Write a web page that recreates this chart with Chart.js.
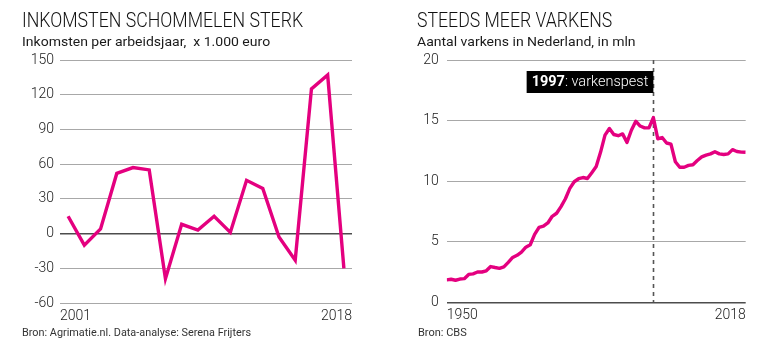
<!DOCTYPE html>
<html>
<head>
<meta charset="utf-8">
<script src="https://cdn.jsdelivr.net/npm/chart.js@4.4.1/dist/chart.umd.min.js"></script>
<style>
  body { margin: 0; width: 763px; height: 350px; background: #fff; position: relative; overflow: hidden;
         font-family: Roboto, "Noto Sans", sans-serif; color: #1a1a1a; }
  canvas { position: absolute; top: 0; }
  #incomeChart { left: 0; width: 380px; height: 350px; }
  #pigChart { left: 390px; width: 373px; height: 350px; }
  .txt { position: absolute; white-space: nowrap; line-height: 1; transform-origin: 0 0; }
  .title { font-size: 19.5px; font-weight: 300; color: #111; }
  .sub { font-size: 13.5px; }
  .src { font-size: 11px; color: #333; }
</style>
</head>
<body>
<canvas id="incomeChart" width="380" height="350"></canvas>
<canvas id="pigChart" width="373" height="350"></canvas>

<div class="txt title" data-w="281" style="left:22px;top:10.6px">INKOMSTEN SCHOMMELEN STERK</div>
<div class="txt sub" data-w="248" style="left:22px;top:34.7px">Inkomsten per arbeidsjaar,&nbsp; x 1.000 euro</div>
<div class="txt src" data-w="229" style="left:22px;top:326.8px">Bron: Agrimatie.nl. Data-analyse: Serena Frijters</div>

<div class="txt title" data-w="195" style="left:417px;top:10.6px">STEEDS MEER VARKENS</div>
<div class="txt sub" data-w="219" style="left:417px;top:34.7px">Aantal varkens in Nederland, in mln</div>
<div class="txt src" data-w="49" style="left:418px;top:326.8px">Bron: CBS</div>

<script>
// income per labour year, x 1.000 euro
const incomeYears = ['2001', '2002', '2003', '2004', '2005', '2006', '2007', '2008', '2009',
                     '2010', '2011', '2012', '2013', '2014', '2015', '2016', '2017', '2018'];
const incomeValues = [15, -10, 4, 52, 57, 55, -39, 8, 3, 15, 1, 46, 39, -3, -23, 125, 137, -30];
const incomeTicks = [-60, -30, 0, 30, 60, 90, 120, 150];

// pigs in the Netherlands, millions, 1950-2018
const pigCounts = [
  1.85, 1.9, 1.82, 1.92, 1.95, 2.3, 2.35, 2.5, 2.5, 2.6,
  2.95, 2.87, 2.8, 2.92, 3.3, 3.7, 3.88, 4.15, 4.55, 4.75,
  5.6, 6.18, 6.28, 6.55, 7.1, 7.35, 7.9, 8.55, 9.4, 9.95,
  10.2, 10.3, 10.22, 10.7, 11.2, 12.4, 13.8, 14.35, 13.85, 13.75,
  13.9, 13.2, 14.2, 14.95, 14.55, 14.4, 14.4, 15.25, 13.5, 13.6,
  13.15, 13.05, 11.6, 11.15, 11.15, 11.3, 11.35, 11.7, 12.0, 12.15,
  12.25, 12.43, 12.25, 12.2, 12.25, 12.6, 12.45, 12.4, 12.38
];
const pigYears = pigCounts.map((_, i) => 1950 + i);
const pigTicks = [0, 5, 10, 15, 20];
const pigXTicks = [1950, 2018];
const crisisYear = 1997;
const crisisLabel = ['1997', ': varkenspest'];

const magenta = '#e4007f';
const tickFont = { family: 'Roboto', size: 14, weight: 300 };
const tickColor = '#222';

// squeeze html texts to the reference widths
document.querySelectorAll('.txt').forEach(el => {
  const w = +el.dataset.w;
  el.style.transform = 'scaleX(' + (w / el.offsetWidth) + ')';
});

const gridColor = ctx => ctx.tick.value === 0 ? '#4d4d4d' : '#a8a8a8';
const gridWidth = ctx => ctx.tick.value === 0 ? 1.6 : 1;

// first and last category drawn at the edges of the plot
const edgeLabels = {
  id: 'edgeLabels',
  afterDraw(chart) {
    const { ctx, chartArea } = chart;
    const labels = chart.data.labels;
    ctx.save();
    ctx.font = '300 14px Roboto';
    ctx.fillStyle = tickColor;
    ctx.textBaseline = 'middle';
    ctx.textAlign = 'left';
    ctx.fillText(labels[0], chartArea.left, chartArea.bottom + 13);
    ctx.textAlign = 'right';
    ctx.fillText(labels[labels.length - 1], chartArea.right, chartArea.bottom + 13);
    ctx.restore();
  }
};

new Chart(document.getElementById('incomeChart'), {
  type: 'line',
  data: {
    labels: incomeYears,
    datasets: [{
      data: incomeValues,
      borderColor: magenta,
      borderWidth: 3.4,
      pointRadius: 0,
      tension: 0,
      borderJoinStyle: 'miter'
    }]
  },
  options: {
    responsive: false,
    animation: false,
    layout: { padding: { top: 60, right: 28, bottom: 27, left: 0 } },
    plugins: { legend: { display: false }, tooltip: { enabled: false } },
    scales: {
      x: {
        offset: true,
        grid: { display: false, drawTicks: false },
        border: { display: false },
        ticks: { display: false },
        afterFit: s => { s.height = 20; }
      },
      y: {
        min: incomeTicks[0],
        max: incomeTicks[incomeTicks.length - 1],
        afterBuildTicks: s => { s.ticks = incomeTicks.map(v => ({ value: v })); },
        grid: { color: gridColor, lineWidth: gridWidth, drawTicks: false },
        border: { display: false },
        ticks: { font: tickFont, color: tickColor, padding: 6 },
        afterFit: s => { s.width = 60; }
      }
    }
  },
  plugins: [edgeLabels]
});

// dashed marker and black label for the swine fever year
const crisisMarker = {
  id: 'crisisMarker',
  beforeDatasetsDraw(chart) {
    const { ctx, chartArea, scales } = chart;
    const x = Math.round(scales.x.getPixelForValue(crisisYear)) + 0.5;
    ctx.save();
    ctx.strokeStyle = '#555';
    ctx.lineWidth = 1.6;
    ctx.setLineDash([4, 4]);
    ctx.beginPath();
    ctx.moveTo(x, chartArea.top);
    ctx.lineTo(x, chartArea.bottom);
    ctx.stroke();
    ctx.restore();
  },
  afterDraw(chart) {
    const { ctx, chartArea, scales } = chart;
    const x = scales.x.getPixelForValue(crisisYear);
    const boldFont = 'bold 14.5px Roboto';
    const normFont = '300 14.5px Roboto';
    ctx.save();
    ctx.font = boldFont;
    const w1 = ctx.measureText(crisisLabel[0]).width;
    ctx.font = normFont;
    const w2 = ctx.measureText(crisisLabel[1]).width;
    const pad = 5;
    const top = chartArea.top + 11;
    const h = 22;
    const left = x - w1 - w2 - 2 * pad;
    ctx.fillStyle = '#000';
    ctx.fillRect(left, top, w1 + w2 + 2 * pad, h);
    ctx.fillStyle = '#fff';
    ctx.textBaseline = 'middle';
    ctx.font = boldFont;
    ctx.fillText(crisisLabel[0], left + pad, top + h / 2 + 0.5);
    ctx.font = normFont;
    ctx.fillText(crisisLabel[1], left + pad + w1, top + h / 2 + 0.5);
    ctx.restore();
  }
};

new Chart(document.getElementById('pigChart'), {
  type: 'line',
  data: {
    datasets: [{
      data: pigCounts.map((v, i) => ({ x: pigYears[i], y: v })),
      borderColor: magenta,
      borderWidth: 3.4,
      pointRadius: 0,
      tension: 0,
      borderJoinStyle: 'round'
    }]
  },
  options: {
    responsive: false,
    animation: false,
    layout: { padding: { top: 60, right: 17.3, bottom: 27.7, left: 0 } },
    plugins: { legend: { display: false }, tooltip: { enabled: false } },
    scales: {
      x: {
        type: 'linear',
        min: pigXTicks[0],
        max: pigXTicks[1],
        afterBuildTicks: s => { s.ticks = pigXTicks.map(v => ({ value: v })); },
        grid: { display: false, drawTicks: false },
        border: { display: false },
        ticks: { font: tickFont, color: tickColor, padding: 5, align: 'inner', maxRotation: 0,
                 callback: v => String(v) },
        afterFit: s => { s.height = 20; }
      },
      y: {
        min: pigTicks[0],
        max: pigTicks[pigTicks.length - 1],
        afterBuildTicks: s => { s.ticks = pigTicks.map(v => ({ value: v })); },
        grid: { color: gridColor, lineWidth: gridWidth, drawTicks: false },
        border: { display: false },
        ticks: { font: tickFont, color: tickColor, padding: 8 },
        afterFit: s => { s.width = 56.7; }
      }
    }
  },
  plugins: [crisisMarker]
});
</script>
</body>
</html>
